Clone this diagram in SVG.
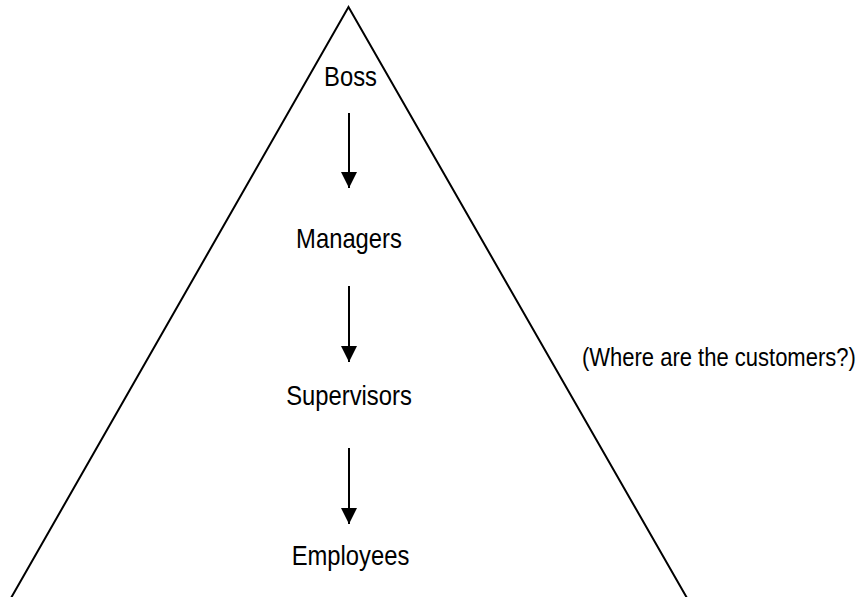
<svg xmlns="http://www.w3.org/2000/svg" width="861" height="597" viewBox="0 0 861 597">
  <style>
    /* condensed sans: regular Liberation Sans squeezed horizontally */
    .label { font-family: "Liberation Sans", Arial, sans-serif; font-size: 28px; fill: #000; }
    .note { font-family: "Liberation Sans", Arial, sans-serif; font-size: 26.67px; fill: #000; }
    .mid { text-anchor: middle; }
    .edge { stroke: #000; stroke-width: 2; fill: none; }
    .outline { stroke: #000; stroke-width: 2; fill: none; stroke-linejoin: miter; }
  </style>
  <defs>
    <marker id="arrowhead" viewBox="0 0 16 16" refX="16" refY="8" markerUnits="userSpaceOnUse" markerWidth="16" markerHeight="16" orient="auto">
      <path d="M0,0 L16,8 L0,16 Z" fill="#000"/>
    </marker>
  </defs>

  <rect width="861" height="597" fill="#fff"/>

  <!-- hierarchy pyramid outline -->
  <polyline class="outline" points="11,598 348.5,7 687,598"/>

  <g id="boss" transform="translate(350.5,86) scale(0.85,1)"><text class="label mid">Boss</text></g>
  <g id="managers" transform="translate(349,248) scale(0.85,1)"><text class="label mid">Managers</text></g>
  <g id="supervisors" transform="translate(349,405) scale(0.85,1)"><text class="label mid">Supervisors</text></g>
  <g id="employees" transform="translate(350.5,565) scale(0.85,1)"><text class="label mid">Employees</text></g>
  <g id="customers-note" transform="translate(582,366) scale(0.825,1)"><text class="note">(Where are the customers?)</text></g>

  <g id="connectors">
    <line class="edge" x1="349" y1="113" x2="349" y2="188" marker-end="url(#arrowhead)"/>
    <line class="edge" x1="349" y1="286" x2="349" y2="362" marker-end="url(#arrowhead)"/>
    <line class="edge" x1="349" y1="448" x2="349" y2="524" marker-end="url(#arrowhead)"/>
  </g>
</svg>
